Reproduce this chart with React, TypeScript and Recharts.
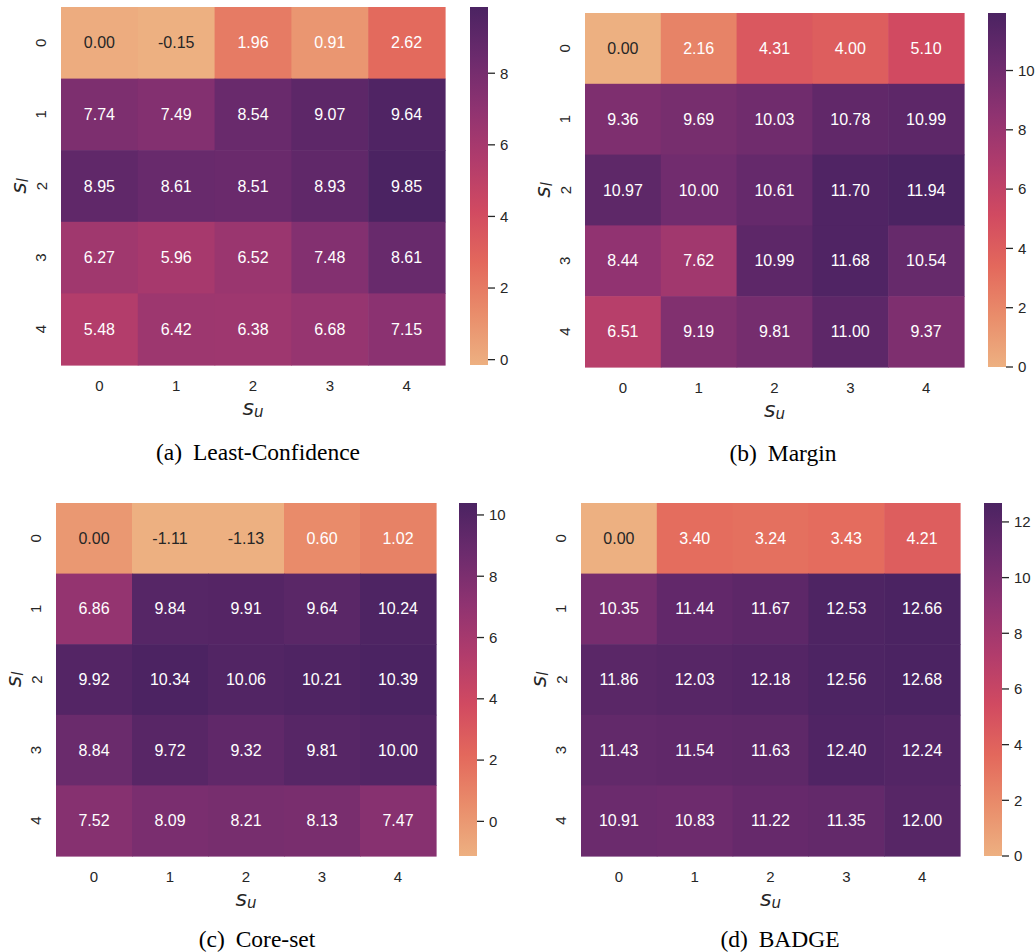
import React from 'react';
import { ScatterChart, Scatter, XAxis, YAxis, ReferenceArea } from 'recharts';

// rows are s_l = 0..4, columns are s_u = 0..4
const leastConfidence = [
  [0.0, -0.15, 1.96, 0.91, 2.62],
  [7.74, 7.49, 8.54, 9.07, 9.64],
  [8.95, 8.61, 8.51, 8.93, 9.85],
  [6.27, 5.96, 6.52, 7.48, 8.61],
  [5.48, 6.42, 6.38, 6.68, 7.15],
];
const margin = [
  [0.0, 2.16, 4.31, 4.0, 5.1],
  [9.36, 9.69, 10.03, 10.78, 10.99],
  [10.97, 10.0, 10.61, 11.7, 11.94],
  [8.44, 7.62, 10.99, 11.68, 10.54],
  [6.51, 9.19, 9.81, 11.0, 9.37],
];
const coreSet = [
  [0.0, -1.11, -1.13, 0.6, 1.02],
  [6.86, 9.84, 9.91, 9.64, 10.24],
  [9.92, 10.34, 10.06, 10.21, 10.39],
  [8.84, 9.72, 9.32, 9.81, 10.0],
  [7.52, 8.09, 8.21, 8.13, 7.47],
];
const badge = [
  [0.0, 3.4, 3.24, 3.43, 4.21],
  [10.35, 11.44, 11.67, 12.53, 12.66],
  [11.86, 12.03, 12.18, 12.56, 12.68],
  [11.43, 11.54, 11.63, 12.4, 12.24],
  [10.91, 10.83, 11.22, 11.35, 12.0],
];

const suTicks = [0, 1, 2, 3, 4];
const slTicks = [0, 1, 2, 3, 4];
const cbTicksA = [0, 2, 4, 6, 8];
const cbTicksB = [0, 2, 4, 6, 8, 10];
const cbTicksC = [0, 2, 4, 6, 8, 10];
const cbTicksD = [0, 2, 4, 6, 8, 10, 12];

// seaborn "flare"
const flareStops: [number, string][] = [
  [0, '#edb081'],
  [0.143, '#e98d6b'],
  [0.286, '#e3685c'],
  [0.429, '#d14a61'],
  [0.571, '#b13c6c'],
  [0.714, '#8f3371'],
  [0.857, '#6c2b6d'],
  [1, '#4b2362'],
];

const hex = (h: string) => [1, 3, 5].map(i => parseInt(h.slice(i, i + 2), 16));

function flare(t: number) {
  const tt = Math.max(0, Math.min(1, t));
  for (let i = 1; i < flareStops.length; i++) {
    const [t1, c1] = flareStops[i];
    const [t0, c0] = flareStops[i - 1];
    if (tt <= t1) {
      const f = (tt - t0) / (t1 - t0);
      const a = hex(c0);
      const b = hex(c1);
      return a.map((v, k) => Math.round(v + (b[k] - v) * f));
    }
  }
  return hex(flareStops[flareStops.length - 1][1]);
}

function textColor(rgb: number[]) {
  const lin = rgb.map(v => {
    const c = v / 255;
    return c <= 0.03928 ? c / 12.92 : Math.pow((c + 0.055) / 1.055, 2.4);
  });
  const lum = 0.2126 * lin[0] + 0.7152 * lin[1] + 0.0722 * lin[2];
  return lum > 0.408 ? '#262626' : '#ffffff';
}

const INK = '#262626';
const SANS = '"Liberation Sans", Arial, sans-serif';
const MATH = '"DejaVu Sans", sans-serif';

type Box = { x: number; y: number; w: number; h: number };

function HeatPanel({ id, values, heat, cb, ticks, caption, label, capX, capY }: {
  id: string; values: number[][]; heat: Box; cb: Box; ticks: number[];
  caption: string; label: string; capX: number; capY: number;
}) {
  const flat = values.flat();
  const vmin = Math.min(...flat);
  const vmax = Math.max(...flat);
  const cells = values.flatMap((row, i) => row.map((v, j) => ({ su: j, sl: i, v })));
  const cw = heat.w / suTicks.length;
  const ch = heat.h / slTicks.length;

  const cellShape = (props: any) => {
    const { cx, cy, payload } = props;
    const rgb = flare((payload.v - vmin) / (vmax - vmin));
    return (
      <g>
        <rect x={cx - cw / 2} y={cy - ch / 2} width={cw + 0.6} height={ch + 0.6} fill={`rgb(${rgb.join(',')})`} />
        <text x={cx} y={cy} textAnchor="middle" dominantBaseline="central" fontSize={16} fontFamily={SANS} fill={textColor(rgb)}>
          {payload.v.toFixed(2)}
        </text>
      </g>
    );
  };

  const yTick = (p: any) => (
    <text x={p.x} y={p.y} transform={`rotate(-90, ${p.x}, ${p.y})`} textAnchor="middle" dominantBaseline="central" fontSize={15} fontFamily={SANS} fill={INK}>
      {p.payload.value}
    </text>
  );
  const xTick = (p: any) => (
    <text x={p.x} y={p.y} textAnchor="middle" dominantBaseline="central" fontSize={15} fontFamily={SANS} fill={INK}>
      {p.payload.value}
    </text>
  );

  const xLabel = (p: any) => {
    const vb = p.viewBox;
    return (
      <text x={vb.x + vb.width / 2} y={vb.y + 42} textAnchor="middle" dominantBaseline="central" fontFamily={MATH} fontStyle="italic" fontSize={22} fill={INK}>
        s<tspan fontSize={15} dy={5}>u</tspan>
      </text>
    );
  };
  const yLabel = (p: any) => {
    const vb = p.viewBox;
    const x = vb.x + vb.width - 43;
    const y = vb.y + vb.height / 2;
    return (
      <text x={x} y={y} transform={`rotate(-90, ${x}, ${y})`} textAnchor="middle" dominantBaseline="central" fontFamily={MATH} fontStyle="italic" fontSize={22} fill={INK}>
        s<tspan fontSize={15} dy={5}>l</tspan>
      </text>
    );
  };

  const cbRange = [{ x: 0.5, y: vmin }, { x: 0.5, y: vmax }];

  return (
    <>
      <div style={{ position: 'absolute', left: heat.x - 70, top: heat.y - 10 }}>
        <ScatterChart width={heat.w + 80} height={heat.h + 70} margin={{ top: 10, right: 10, bottom: 0, left: 0 }}>
          <XAxis type="number" dataKey="su" domain={[-0.5, 4.5]} ticks={suTicks} interval={0} height={60}
            tickLine={false} axisLine={false} tickSize={0} tickMargin={20} tick={xTick} label={{ content: xLabel }} />
          <YAxis type="number" dataKey="sl" domain={[-0.5, 4.5]} ticks={slTicks} interval={0} reversed width={70}
            tickLine={false} axisLine={false} tickSize={0} tickMargin={20} tick={yTick} label={{ content: yLabel }} />
          <Scatter data={cells} shape={cellShape} isAnimationActive={false} />
        </ScatterChart>
      </div>
      <div style={{ position: 'absolute', left: cb.x, top: cb.y - 10 }}>
        <ScatterChart width={cb.w + 45} height={cb.h + 20} margin={{ top: 10, right: 0, bottom: 10, left: 0 }}>
          <defs>
            <linearGradient id={`cb-${id}`} x1="0" y1="1" x2="0" y2="0">
              {flareStops.map(([t, c]) => <stop key={t} offset={t} stopColor={c} />)}
            </linearGradient>
          </defs>
          <XAxis type="number" dataKey="x" domain={[0, 1]} hide />
          <YAxis type="number" dataKey="y" orientation="right" domain={[vmin, vmax]} allowDataOverflow ticks={ticks} interval={0}
            width={45} axisLine={false} tickSize={7} tickMargin={5}
            tickLine={{ stroke: INK, strokeWidth: 1.3 }} tick={{ fontSize: 15, fontFamily: SANS, fill: INK }} />
          <ReferenceArea y1={vmin} y2={vmax} fill={`url(#cb-${id})`} fillOpacity={1} stroke="none" />
          <Scatter data={cbRange} shape={() => <g />} isAnimationActive={false} />
        </ScatterChart>
      </div>
      <div style={{ position: 'absolute', left: capX - 160, top: capY - 11, width: 320, textAlign: 'center',
        fontFamily: '"Liberation Serif", "Times New Roman", serif', fontSize: 23.5, lineHeight: '22px', color: '#000' }}>
        <span style={{ marginRight: 5 }}>{label}</span> {caption}
      </div>
    </>
  );
}

export default function App() {
  return (
    <div style={{ position: 'absolute', left: 0, top: 0, width: 1036, height: 952, background: '#fff', overflow: 'hidden' }}>
      <HeatPanel id="a" values={leastConfidence} ticks={cbTicksA} label="(a)" caption="Least-Confidence"
        heat={{ x: 61, y: 7, w: 384, h: 358 }} cb={{ x: 470, y: 7, w: 18, h: 358 }} capX={258} capY={452} />
      <HeatPanel id="b" values={margin} ticks={cbTicksB} label="(b)" caption="Margin"
        heat={{ x: 585, y: 13, w: 379, h: 354 }} cb={{ x: 988, y: 13, w: 18, h: 354 }} capX={783} capY={453} />
      <HeatPanel id="c" values={coreSet} ticks={cbTicksC} label="(c)" caption="Core-set"
        heat={{ x: 56, y: 503, w: 380, h: 353 }} cb={{ x: 459, y: 503, w: 18, h: 353 }} capX={257} capY={939} />
      <HeatPanel id="d" values={badge} ticks={cbTicksD} label="(d)" caption="BADGE"
        heat={{ x: 581, y: 503, w: 379, h: 353 }} cb={{ x: 984, y: 503, w: 18, h: 353 }} capX={780} capY={939} />
    </div>
  );
}
